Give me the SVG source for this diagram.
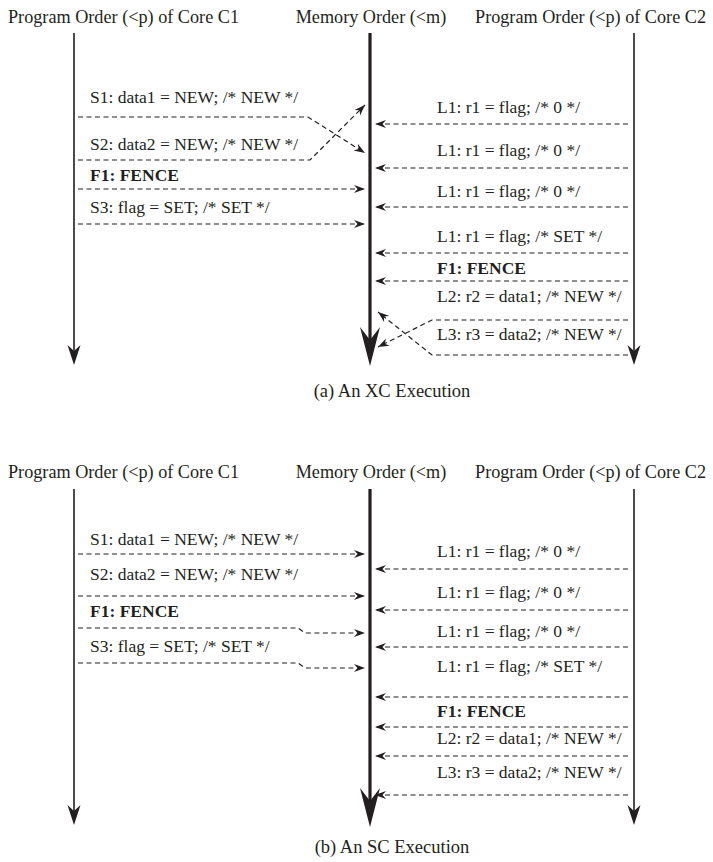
<svg xmlns="http://www.w3.org/2000/svg" width="713" height="862" viewBox="0 0 713 862">
<style>
  text { font-family: "Liberation Serif", "DejaVu Serif", serif; font-size: 17.5px; fill: #231f20; }
  .t { font-size: 18.2px; }
  .cap { font-size: 18.5px; text-anchor: middle; }
  .b { font-weight: bold; }
  .m { text-anchor: middle; }
  .e { text-anchor: end; }
  .conn { fill: none; stroke: #231f20; stroke-width: 1.2; stroke-dasharray: 5 3.5; marker-end: url(#ah); }
  .axis { fill: none; stroke: #231f20; stroke-width: 1.6; }
  .maxis { fill: none; stroke: #231f20; stroke-width: 3.2; }
  .head { fill: #231f20; stroke: none; }
</style>
<defs>
  <marker id="ah" markerUnits="userSpaceOnUse" markerWidth="14" markerHeight="10" viewBox="-12 -5 14 10" refX="0" refY="0" orient="auto">
    <path d="M0,0 L-11,-4 L-7.5,0 L-11,4 Z" fill="#231f20"/>
  </marker>
</defs>

<!-- ===== (a) XC Execution ===== -->
<g id="titles-a">
  <text class="t" x="8" y="23">Program Order (&lt;p) of Core C1</text>
  <text class="t m" x="371" y="23">Memory Order (&lt;m)</text>
  <text class="t e" x="706" y="23">Program Order (&lt;p) of Core C2</text>
</g>
<g id="axes-a">
  <g id="c1-axis-a"><line class="axis" x1="74" y1="33" x2="74" y2="352"/><path class="head" d="M74,365 L67.5,345 L74,351 L80.5,345 Z"/></g>
  <g id="mem-axis-a"><line class="maxis" x1="370" y1="33" x2="370" y2="345"/><path class="head" d="M370,366 L360,327 L370,340 L380,327 Z"/></g>
  <g id="c2-axis-a"><line class="axis" x1="634" y1="33" x2="634" y2="352"/><path class="head" d="M634,365 L627.5,345 L634,351 L640.5,345 Z"/></g>
</g>
<g id="labels-a">
  <g id="a-s1"><text x="90" y="103">S1: data1 = NEW; /* NEW */</text></g>
  <g id="a-s2"><text x="90" y="150">S2: data2 = NEW; /* NEW */</text></g>
  <g id="a-f1c1"><text class="b" x="90" y="181">F1: FENCE</text></g>
  <g id="a-s3"><text x="90" y="213">S3: flag = SET; /* SET */</text></g>
  <g id="a-l1a"><text x="437" y="113">L1: r1 = flag; /* 0 */</text></g>
  <g id="a-l1b"><text x="437" y="156">L1: r1 = flag; /* 0 */</text></g>
  <g id="a-l1c"><text x="437" y="197">L1: r1 = flag; /* 0 */</text></g>
  <g id="a-l1d"><text x="437" y="242">L1: r1 = flag; /* SET */</text></g>
  <g id="a-f1c2"><text class="b" x="437" y="274">F1: FENCE</text></g>
  <g id="a-l2"><text x="437" y="302">L2: r2 = data1; /* NEW */</text></g>
  <g id="a-l3"><text x="437" y="340">L3: r3 = data2; /* NEW */</text></g>
</g>
<g id="connectors-a">
  <path class="conn" d="M78,117 H308 L365,153"/>
  <path class="conn" d="M78,160 H310 L365,105"/>
  <path class="conn" d="M78,189 H365"/>
  <path class="conn" d="M78,224 H365"/>
  <path class="conn" d="M628,124 H375"/>
  <path class="conn" d="M628,168 H375"/>
  <path class="conn" d="M628,207 H375"/>
  <path class="conn" d="M628,253 H375"/>
  <path class="conn" d="M628,281 H375"/>
  <path class="conn" d="M628,320 H432 L378,347"/>
  <path class="conn" d="M628,355 H432 L378,312"/>
</g>
<text id="caption-a" class="cap" x="392" y="397">(a) An XC Execution</text>

<!-- ===== (b) SC Execution ===== -->
<g id="titles-b">
  <text class="t" x="8" y="478">Program Order (&lt;p) of Core C1</text>
  <text class="t m" x="371" y="478">Memory Order (&lt;m)</text>
  <text class="t e" x="706" y="478">Program Order (&lt;p) of Core C2</text>
</g>
<g id="axes-b">
  <g id="c1-axis-b"><line class="axis" x1="74" y1="489" x2="74" y2="812"/><path class="head" d="M74,825 L67.5,805 L74,811 L80.5,805 Z"/></g>
  <g id="mem-axis-b"><line class="maxis" x1="370" y1="489" x2="370" y2="805"/><path class="head" d="M370,827 L360,788 L370,801 L380,788 Z"/></g>
  <g id="c2-axis-b"><line class="axis" x1="634" y1="489" x2="634" y2="812"/><path class="head" d="M634,825 L627.5,805 L634,811 L640.5,805 Z"/></g>
</g>
<g id="labels-b">
  <g id="b-s1"><text x="90" y="545">S1: data1 = NEW; /* NEW */</text></g>
  <g id="b-s2"><text x="90" y="580">S2: data2 = NEW; /* NEW */</text></g>
  <g id="b-f1c1"><text class="b" x="90" y="617">F1: FENCE</text></g>
  <g id="b-s3"><text x="90" y="652">S3: flag = SET; /* SET */</text></g>
  <g id="b-l1a"><text x="437" y="557">L1: r1 = flag; /* 0 */</text></g>
  <g id="b-l1b"><text x="437" y="598">L1: r1 = flag; /* 0 */</text></g>
  <g id="b-l1c"><text x="437" y="637">L1: r1 = flag; /* 0 */</text></g>
  <g id="b-l1d"><text x="437" y="672">L1: r1 = flag; /* SET */</text></g>
  <g id="b-f1c2"><text class="b" x="437" y="717">F1: FENCE</text></g>
  <g id="b-l2"><text x="437" y="744">L2: r2 = data1; /* NEW */</text></g>
  <g id="b-l3"><text x="437" y="778">L3: r3 = data2; /* NEW */</text></g>
</g>
<g id="connectors-b">
  <path class="conn" d="M78,554 H365"/>
  <path class="conn" d="M78,596 H365"/>
  <path class="conn" d="M78,628 H298 L305,633 H365"/>
  <path class="conn" d="M78,663 H298 L305,668 H365"/>
  <path class="conn" d="M628,569 H375"/>
  <path class="conn" d="M628,610 H375"/>
  <path class="conn" d="M628,647 H375"/>
  <path class="conn" d="M628,697 H375"/>
  <path class="conn" d="M628,727 H375"/>
  <path class="conn" d="M628,756 H375"/>
  <path class="conn" d="M628,795 H375"/>
</g>
<text id="caption-b" class="cap" x="392" y="853">(b) An SC Execution</text>
</svg>
